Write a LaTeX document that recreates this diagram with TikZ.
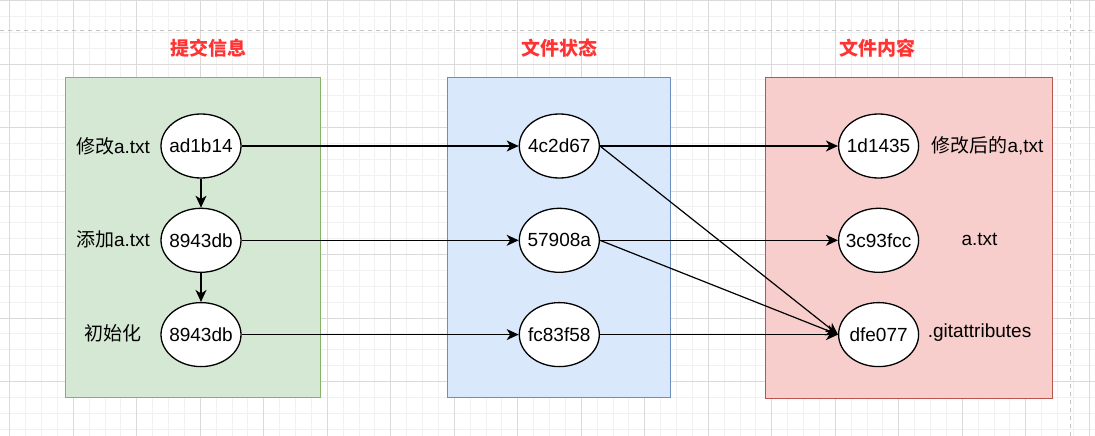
\documentclass[tikz,border=0pt]{standalone}
\usepackage{fontspec}
\setmainfont{Liberation Sans}
\newfontfamily\cjk{Noto Sans CJK SC}
\usetikzlibrary{arrows.meta,positioning,shapes.geometric}
\definecolor{GitGreen}{HTML}{D5E8D4}
\definecolor{GitGreenLine}{HTML}{82B366}
\definecolor{GitBlue}{HTML}{DAE8FC}
\definecolor{GitBlueLine}{HTML}{6C8EBF}
\definecolor{GitRed}{HTML}{F8CECC}
\definecolor{GitRedLine}{HTML}{B85450}
\definecolor{GitTitle}{HTML}{FF3333}
\definecolor{GridMinor}{HTML}{F1F1F1}
\definecolor{GridMajor}{HTML}{DADADA}
\definecolor{PageLine}{HTML}{C4C4C4}
\newcommand{\hashtext}[1]{\makebox[0pt]{#1}}
\tikzset{
  panel/.style={draw,line width=1pt,inner sep=0pt},
  hashnode/.style={ellipse,draw=black,line width=1.3pt,fill=white,minimum width=80pt,minimum height=64pt,inner sep=0pt,font=\fontsize{19}{21}\selectfont},
  sidelabel/.style={font=\fontsize{19}{21}\selectfont,inner sep=0pt},
  paneltitle/.style={font=\fontsize{19}{21}\selectfont\cjk\bfseries,text=GitTitle},
  objarrow/.style={-{Stealth[length=12pt,width=11pt,inset=3.5pt]},line width=1.2pt,draw=black},
  pageline/.style={draw=PageLine,dash pattern=on 4pt off 4pt,line width=1pt}
}

\begin{document}
\begin{tikzpicture}[x=1pt,y=-1pt,node distance=29pt and 277pt]
\fill[white] (0,0) rectangle (1095,436);
\useasboundingbox (0,0) rectangle (1095,436);
\foreach \i in {0,...,68} \draw[GridMinor,line width=0.8pt] ({9.7+\i*15.875},0) -- ++(0,436);
\foreach \j in {0,...,27} \draw[GridMinor,line width=0.8pt] (0,{0.5+\j*15.875}) -- ++(1095,0);
\foreach \i in {0,...,17} \draw[GridMajor,line width=0.8pt] ({9.7+\i*63.5},0) -- ++(0,436);
\foreach \j in {0,...,6} \draw[GridMajor,line width=0.8pt] (0,{0.5+\j*63.5}) -- ++(1095,0);
\coordinate (pagetopL) at (0,31);
\coordinate (pagetopR) at (1095,31);
\coordinate (pagerightT) at (1070,0);
\coordinate (pagerightB) at (1070,436);
\draw[pageline] (pagetopL) -- (pagetopR);
\draw[pageline] (pagerightT) -- (pagerightB);

\node[panel,draw=GitGreenLine,fill=GitGreen,minimum width=255pt,minimum height=319pt] (commitpanel) at (192.5,237.5) {};
\node[panel,draw=GitBlueLine,fill=GitBlue,minimum width=223pt,minimum height=319pt] (statepanel) at (558.5,237.5) {};
\node[panel,draw=GitRedLine,fill=GitRed,minimum width=287pt,minimum height=320pt] (contentpanel) at (908.5,238) {};
\node[paneltitle] (committitle) at (208,48) {提交信息};
\node[paneltitle] (statetitle) at (559,48) {文件状态};
\node[paneltitle] (contenttitle) at (877,48) {文件内容};

\node[hashnode] (ad1b14) at (201,146) {\hashtext{ad1b14}};
\node[hashnode,below=of ad1b14] (c8943a) {\hashtext{8943db}};
\node[hashnode,below=of c8943a] (c8943b) {\hashtext{8943db}};
\node[hashnode,right=of ad1b14] (s4c2d67) {\hashtext{4c2d67}};
\node[hashnode,right=of c8943a] (s57908a) {\hashtext{57908a}};
\node[hashnode,right=of c8943b] (sfc83f58) {\hashtext{fc83f58}};
\node[hashnode,right=238pt of s4c2d67] (b1d1435) {\hashtext{1d1435}};
\node[hashnode,right=238pt of s57908a] (b3c93fcc) {\hashtext{3c93fcc}};
\node[hashnode,right=238pt of sfc83f58] (bdfe077) {\hashtext{dfe077}};

\node[sidelabel] (lblmodify) at (113,146) {{\cjk 修改}a.txt};
\node[sidelabel] (lbladd) at (113,239) {{\cjk 添加}a.txt};
\node[sidelabel] (lblinit) at (113,333) {\cjk 初始化};
\node[sidelabel] (lblnewa) at (987.5,146) {{\cjk 修改后的}a,txt};
\node[sidelabel] (lbla) at (979.5,239) {a.txt};
\node[sidelabel] (lblattr) at (979.5,333) {.gitattributes};

\draw[objarrow] (ad1b14.south) -- (c8943a.north);
\draw[objarrow] (c8943a.south) -- (c8943b.north);
\draw[objarrow] (ad1b14.east) -- (s4c2d67.west);
\draw[objarrow] (c8943a.east) -- (s57908a.west);
\draw[objarrow] (c8943b.east) -- (sfc83f58.west);
\draw[objarrow] (s4c2d67.east) -- (b1d1435.west);
\draw[objarrow] (s4c2d67.east) -- (bdfe077.west);
\draw[objarrow] (s57908a.east) -- (b3c93fcc.west);
\draw[objarrow] (s57908a.east) -- (bdfe077.west);
\draw[objarrow] (sfc83f58.east) -- (bdfe077.west);
\end{tikzpicture}
\end{document}
